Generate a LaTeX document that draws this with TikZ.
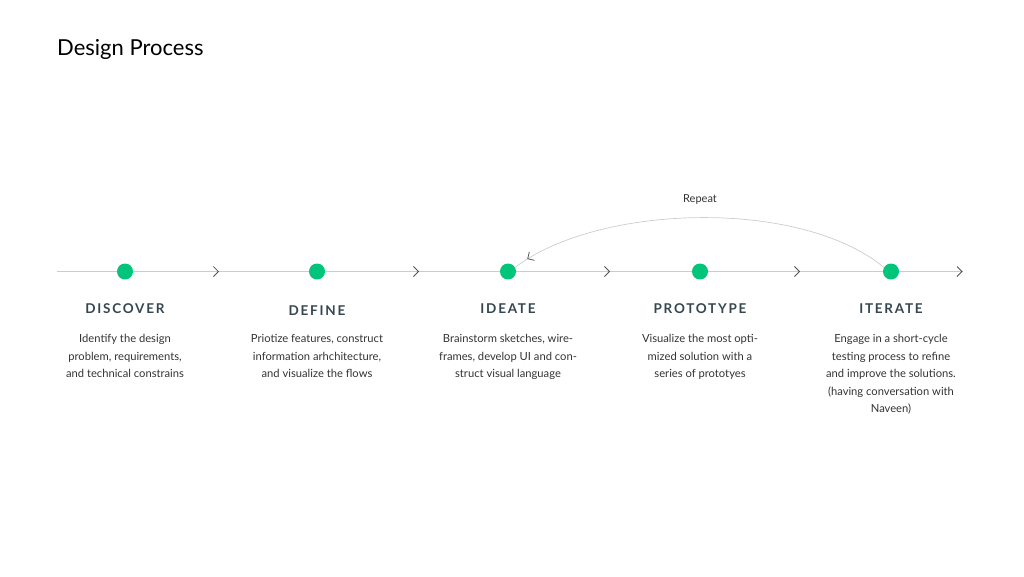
\documentclass[tikz,border=0pt]{standalone}
\usepackage{fontspec}
\setmainfont{Lato}
\usetikzlibrary{arrows.meta,decorations.markings}
\definecolor{linec}{HTML}{C9CDD0}
\definecolor{chevc}{HTML}{4A555D}
\definecolor{dotc}{HTML}{00C57A}
\definecolor{headc}{HTML}{37474F}
\definecolor{textc}{HTML}{333333}
\tikzset{
  chevtip/.tip={Straight Barb[length=5pt,width=10pt,line width=0.8pt]},
  mainline/.style={draw=linec, line width=0.8pt},
  dotnode/.style={circle, fill=dotc, draw=none, minimum size=16pt, inner sep=0pt},
  headnode/.style={font=\fontsize{13.5}{16}\selectfont\bfseries\addfontfeature{LetterSpace=13}, text=headc, inner sep=0pt, anchor=center},
  descnode/.style={font=\fontsize{11.2}{17.6}\selectfont, text=textc, align=center, inner sep=0pt, anchor=north},
  repeatarc/.style={draw=linec, line width=0.7pt},
}
\begin{document}
\begin{tikzpicture}[x=1pt,y=-1pt]
\useasboundingbox (0,0) rectangle (1024,576);
\node[anchor=base west, inner sep=0pt, font=\fontsize{22}{26}\selectfont, text=black] (title) at (57,55) {Design Process};

\coordinate (L0) at (57,271.5);
\coordinate (L1) at (963,271.5);
\draw[mainline, postaction={decorate}, decoration={markings,
  mark=at position 0.1788 with {\arrow[chevc]{chevtip}},
  mark=at position 0.3996 with {\arrow[chevc]{chevtip}},
  mark=at position 0.6104 with {\arrow[chevc]{chevtip}},
  mark=at position 0.8201 with {\arrow[chevc]{chevtip}},
  mark=at position 0.9995 with {\arrow[chevc]{chevtip}}}] (L0) -- (L1);

\node[dotnode] (d1) at (125,271.5) {};
\node[dotnode] (d2) at (317,271.5) {};
\node[dotnode] (d3) at (508,271.5) {};
\node[dotnode] (d4) at (700,271.5) {};
\node[dotnode] (d5) at (891,271.5) {};

\draw[repeatarc, postaction={decorate}, decoration={markings,
  mark=at position 0.962 with {\arrow[chevc]{chevtip}}}]
  (d5.150) .. controls (800,198) and (598,204) .. (d3.30);
\node[font=\fontsize{11}{13}\selectfont, text=textc, inner sep=0pt] (rep) at (700,199.5) {Repeat};

\node[headnode] (h1) at (125,309) {DISCOVER};
\node[headnode] (h2) at (317,311) {DEFINE};
\node[headnode] (h3) at (508,309) {IDEATE};
\node[headnode] (h4) at (700,309) {PROTOTYPE};
\node[headnode] (h5) at (891,309) {ITERATE};

\node[descnode] (t1) at (125,334) {Identify the design\\problem, requirements,\\and technical constrains};
\node[descnode] (t2) at (317,334) {Priotize features, construct\\information arhchitecture,\\and visualize the flows};
\node[descnode] (t3) at (508,334) {Brainstorm sketches, wire-\\frames, develop UI and con-\\struct visual language};
\node[descnode] (t4) at (700,334) {Visualize the most opti-\\mized solution with a\\series of prototyes};
\node[descnode] (t5) at (891,334) {Engage in a short-cycle\\testing process to refine\\and improve the solutions.\\(having conversation with\\Naveen)};
\end{tikzpicture}
\end{document}
